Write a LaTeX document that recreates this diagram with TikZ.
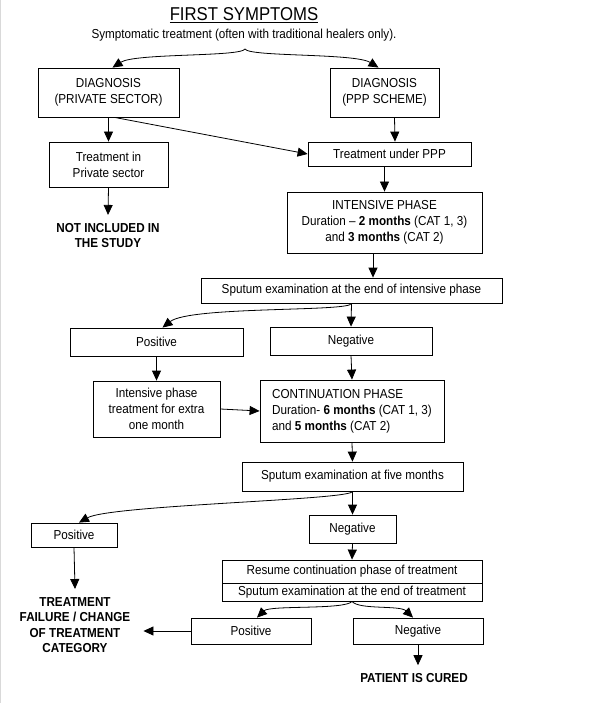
\documentclass[tikz,border=0pt]{standalone}
\usepackage{fontspec}
\setmainfont{Liberation Sans}[FakeStretch=0.9]
\usetikzlibrary{arrows.meta}

\begin{document}
\begin{tikzpicture}[x=1pt,y=-1pt,
    box/.style={draw, line width=0.8pt, inner sep=0pt, align=center, font=\fontsize{13}{16}\selectfont},
    result/.style={inner sep=8pt, align=center, font=\fontsize{13}{15.5}\selectfont\bfseries},
    flow/.style={-{Triangle[length=10pt,width=9pt]}, line width=0.8pt}]
	\useasboundingbox (0,0) rectangle (600,703);
	\draw[black!15, line width=1pt] (0.5,0) -- (0.5,703);

	% Draw the headings
	\node[inner sep=0pt, font=\fontsize{18.6}{22}\selectfont] (title) at (244,15) {\underline{FIRST SYMPTOMS}};
	\node[inner sep=0pt, font=\fontsize{13}{16}\selectfont] (sympt) at (244,35) {Symptomatic treatment (often with traditional healers only).};
	\coordinate (split1) at (245,49);

	% Draw the boxes
	\node[box, minimum width=141pt, minimum height=49pt] (diagpriv) at (108.5,92.5) {DIAGNOSIS\\(PRIVATE SECTOR)};
	\node[box, minimum width=109pt, minimum height=49pt] (diagppp) at (384.5,92.5) {DIAGNOSIS\\(PPP SCHEME)};
	\node[box, minimum width=119pt, minimum height=45pt] (treatpriv) at (108.5,164.5) {Treatment in\\Private sector};
	\node[box, minimum width=163pt, minimum height=24pt] (treatppp) at (389.5,154) {Treatment under PPP};
	\node[result] (notincl) at (108,235.5) {NOT INCLUDED IN\\THE STUDY};
	\node[box, minimum width=195pt, minimum height=61pt] (intens) at (384.5,222.5) {INTENSIVE PHASE\\Duration -- \textbf{2 months} (CAT 1, 3)\\and \textbf{3 months} (CAT 2)};
	\node[box, minimum width=301pt, minimum height=25pt] (sput1) at (351.5,290.5) {Sputum examination at the end of intensive phase};
	\node[box, minimum width=173pt, minimum height=28pt] (pos1) at (156.5,342) {Positive};
	\node[box, minimum width=162pt, minimum height=28pt] (neg1) at (351,341) {Negative};
	\node[box, minimum width=127pt, minimum height=56pt] (extra) at (156.5,409) {Intensive phase\\treatment for extra\\one month};
	\node[box, align=left, minimum width=184pt, minimum height=62pt] (contin) at (352,411) {CONTINUATION PHASE\\Duration- \textbf{6 months} (CAT 1, 3)\\and \textbf{5 months} (CAT 2)};
	\node[box, minimum width=221pt, minimum height=29pt] (sput5) at (352.5,476.5) {Sputum examination at five months};
	\node[box, minimum width=86pt, minimum height=24pt] (pos2) at (74,535) {Positive};
	\node[box, minimum width=87pt, minimum height=28pt] (neg2) at (352.5,529) {Negative};
	\node[result] (failure) at (75,625) {TREATMENT\\FAILURE / CHANGE\\OF TREATMENT\\CATEGORY};
	\node[box, minimum width=260pt, minimum height=23pt] (resume) at (352,571.5) {Resume continuation phase of treatment};
	\node[box, minimum width=260pt, minimum height=18pt] (sputend) at (352,592) {Sputum examination at the end of treatment};
	\node[box, minimum width=120pt, minimum height=26pt] (pos3) at (251,631) {Positive};
	\node[box, minimum width=130pt, minimum height=26pt] (neg3) at (418,631) {Negative};
	\node[result] (cured) at (414,678) {PATIENT IS CURED};

	% Connect the boxes with arrows
	\draw[flow] (split1) .. controls (241,57) and (135,53) .. ([xshift=4pt]diagpriv.north);
	\draw[flow] (split1) .. controls (249,57) and (355,53) .. ([xshift=-6pt]diagppp.north);
	\draw[flow] (diagpriv.south) -- (treatpriv.north);
	\draw[flow] ([xshift=6pt]diagpriv.south) -- (treatppp.west);
	\draw[flow] ([xshift=10pt]diagppp.south) -- ([xshift=5.5pt]treatppp.north);
	\draw[flow] (treatpriv.south) -- (notincl.north);
	\draw[flow] (intens.north |- treatppp.south) -- (intens.north);
	\draw[flow] ([xshift=-11.5pt]intens.south) -- ([xshift=21.5pt]sput1.north);
	\draw[flow] (sput1.south) -- (neg1.north);
	\draw[flow] (sput1.south) .. controls (351,312) and (190,306) .. ([xshift=6pt]pos1.north);
	\draw[flow] (pos1.south) -- (extra.north);
	\draw[flow] (neg1.south) -- (contin.north);
	\draw[flow] (extra.east) -- (contin.west);
	\draw[flow] (contin.south) -- (sput5.north);
	\draw[flow] (sput5.south) -- (neg2.north);
	\draw[flow] (sput5.south) .. controls (352,500) and (110,505) .. ([xshift=5pt]pos2.north);
	\draw[flow] (pos2.south) -- (failure.north);
	\draw[flow] (neg2.south) -- (resume.north);
	\draw[flow] (sputend.south) .. controls (345,610) and (270,605) .. ([xshift=6pt]pos3.north);
	\draw[flow] (sputend.south) .. controls (359,610) and (400,605) .. ([xshift=-5pt]neg3.north);
	\draw[flow, shorten >=5pt] (pos3.west) -- (failure.east |- pos3.west);
	\draw[flow] (neg3.south) -- (neg3.south |- cured.north);
\end{tikzpicture}
\end{document}
